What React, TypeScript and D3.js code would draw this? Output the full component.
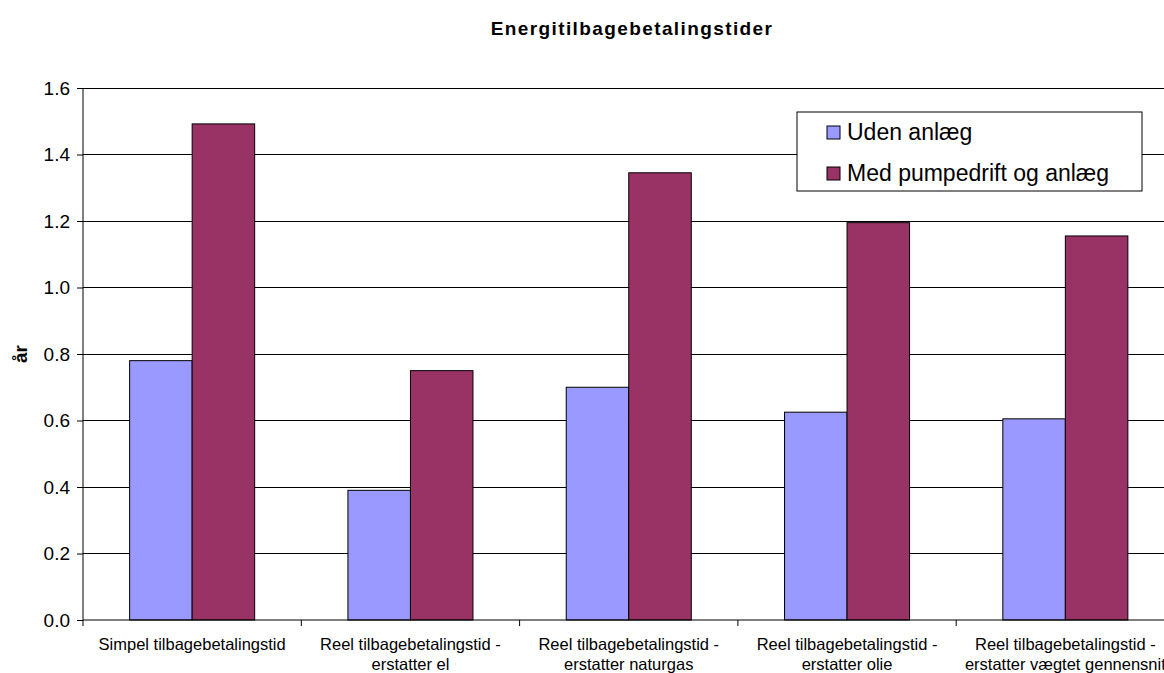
import React, { useEffect, useRef } from 'react';
import * as d3 from 'd3';

// Chart data
const categories = [
  ['Simpel tilbagebetalingstid'],
  ['Reel tilbagebetalingstid -', 'erstatter el'],
  ['Reel tilbagebetalingstid -', 'erstatter naturgas'],
  ['Reel tilbagebetalingstid -', 'erstatter olie'],
  ['Reel tilbagebetalingstid -', 'erstatter vægtet gennensnit']
];
const seriesNames = ['Uden anlæg', 'Med pumpedrift og anlæg'];
const udenAnlaeg = [0.78, 0.39, 0.70, 0.625, 0.605];
const medPumpedrift = [1.492, 0.75, 1.345, 1.195, 1.155];
const yTicks = [0, 0.2, 0.4, 0.6, 0.8, 1.0, 1.2, 1.4, 1.6];
const colors = ['#9999FF', '#993366'];

const App: React.FC = () => {
  const ref = useRef<SVGSVGElement>(null);

  useEffect(() => {
    if (!ref.current) return;
    const svg = d3.select(ref.current);
    svg.selectAll('*').remove();
    const font = 'Liberation Sans, Arial, sans-serif';
    const left = 83;
    const top = 88;
    const bottom = 620;
    const catW = 218.3;
    const right = left + catW * categories.length;

    // Title
    svg.append('text').attr('x', 632).attr('y', 35).attr('text-anchor', 'middle')
      .style('font-family', font).style('font-size', '19px').style('font-weight', 'bold')
      .style('letter-spacing', '1.4px')
      .text('Energitilbagebetalingstider');

    const x = d3.scaleBand<number>().domain(d3.range(categories.length)).range([left, right]).paddingInner(0).paddingOuter(0);
    const sub = d3.scaleBand<number>().domain([0, 1]).range([0, catW]).paddingInner(0).paddingOuter(0.746);
    const y = d3.scaleLinear().domain([0, 1.6]).range([bottom, top]);

    // Gridlines
    svg.append('g').selectAll('line').data(yTicks.slice(1)).enter().append('line')
      .attr('x1', left).attr('x2', right).attr('y1', d => y(d)).attr('y2', d => y(d))
      .style('stroke', '#000').style('stroke-width', 1).attr('shape-rendering', 'crispEdges');

    // Bars
    const series = [udenAnlaeg, medPumpedrift];
    series.forEach((vals, si) => {
      svg.append('g').selectAll('rect').data(vals).enter().append('rect')
        .attr('x', (d, i) => (x(i) || 0) + (sub(si) || 0))
        .attr('width', sub.bandwidth())
        .attr('y', d => y(d))
        .attr('height', d => bottom - y(d))
        .attr('fill', colors[si])
        .attr('stroke', '#000').attr('stroke-width', 1);
    });

    // Y axis
    const yAxis = svg.append('g').attr('transform', `translate(${left},0)`)
      .call(d3.axisLeft(y).tickValues(yTicks).tickFormat(d => d3.format('.1f')(d as number)).tickSize(6).tickPadding(7));
    yAxis.select('.domain').attr('stroke', '#000').attr('d', `M0,${top}V${bottom}`);
    yAxis.selectAll('text').style('font-family', font).style('font-size', '19px').attr('fill', '#000');

    // X axis
    const xg = svg.append('g');
    xg.append('line').attr('x1', left).attr('x2', right).attr('y1', bottom).attr('y2', bottom).style('stroke', '#000');
    xg.selectAll('line.tick').data(d3.range(categories.length + 1)).enter().append('line')
      .attr('class', 'tick')
      .attr('x1', i => left + i * catW).attr('x2', i => left + i * catW)
      .attr('y1', bottom).attr('y2', bottom + 6).style('stroke', '#000');
    categories.forEach((lines, i) => {
      const t = xg.append('text').attr('x', (x(i) || 0) + catW / 2).attr('y', bottom + 30)
        .attr('text-anchor', 'middle').style('font-family', font).style('font-size', '16.5px');
      lines.forEach((l, j) => t.append('tspan').attr('x', (x(i) || 0) + catW / 2).attr('dy', j === 0 ? 0 : 20).text(l));
    });

    // Y label
    svg.append('text').attr('transform', `translate(27,${(top + bottom) / 2}) rotate(-90)`)
      .attr('text-anchor', 'middle').style('font-family', font).style('font-size', '19px').style('font-weight', 'bold')
      .text('år');

    // Legend
    const lg = svg.append('g').attr('transform', 'translate(797,112)');
    lg.append('rect').attr('width', 345).attr('height', 79).attr('fill', '#fff').attr('stroke', '#000');
    seriesNames.forEach((name, i) => {
      const cy = 20 + i * 41;
      lg.append('rect').attr('x', 30).attr('y', cy - 6).attr('width', 13).attr('height', 13)
        .attr('fill', colors[i]).attr('stroke', '#000');
      lg.append('text').attr('x', 50).attr('y', cy + 8).style('font-family', font).style('font-size', '23px').text(name);
    });
  }, []);

  return <svg ref={ref} width={1164} height={673} style={{ position: 'absolute', left: 0, top: 0, background: '#fff' }} />;
};

export default App;
